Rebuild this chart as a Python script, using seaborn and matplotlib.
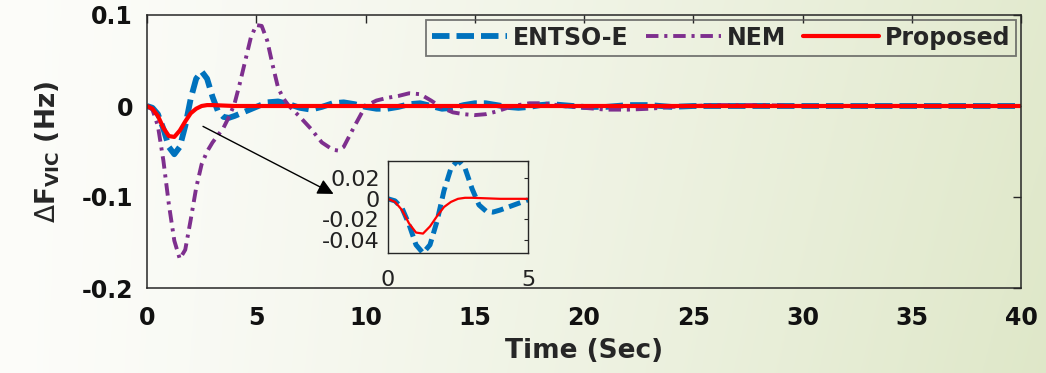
import numpy as np
import pandas as pd
import matplotlib
matplotlib.use("Agg")
import matplotlib.pyplot as plt
import seaborn as sns

# ---------------- data ----------------
t_entsoe = [0, 0.25, 0.5, 0.75, 1.0, 1.25, 1.5, 1.75, 2.0, 2.25, 2.5, 2.75, 3.0, 3.25, 3.5,
            3.75, 4.0, 4.5, 5.0, 5.5, 6.0, 6.5, 7.0, 7.5, 8.0, 8.5, 9.0, 9.5, 10.0, 10.5,
            11.0, 11.5, 12.0, 12.5, 13.0, 13.5, 14.0, 14.5, 15.0, 15.5, 16.0, 16.5, 17.0,
            17.5, 18.0, 18.5, 19.0, 20, 21, 22, 23, 24, 25, 30, 35, 40]
v_entsoe = [0, -0.002, -0.009, -0.025, -0.045, -0.053, -0.045, -0.022, 0.008, 0.030, 0.038,
            0.030, 0.010, -0.006, -0.012, -0.013, -0.011, -0.006, -0.001, 0.004, 0.005, 0.002,
            -0.002, -0.004, -0.001, 0.003, 0.004, 0.002, -0.001, -0.003, -0.003, -0.001, 0.002,
            0.003, 0.000, -0.003, -0.002, 0.001, 0.003, 0.003, 0.001, -0.001, -0.002, -0.001,
            0.001, 0.002, 0.001, -0.001, -0.001, 0.001, 0.001, -0.001, 0, 0, 0, 0]

t_nem = [0, 0.25, 0.5, 0.75, 1.0, 1.25, 1.5, 1.75, 2.0, 2.25, 2.5, 2.75, 3.0, 3.25, 3.5, 3.75,
         4.0, 4.25, 4.5, 4.75, 5.0, 5.25, 5.5, 5.75, 6.0, 6.25, 6.5, 7.0, 7.5, 8.0, 8.5, 8.75,
         9.0, 9.5, 10.0, 10.5, 11.0, 11.5, 12.0, 12.5, 13.0, 13.5, 14.0, 14.5, 15.0, 15.5,
         16.0, 16.5, 17.0, 17.5, 18.0, 18.5, 19.0, 20, 21, 22, 23, 24, 25, 26, 28, 30, 35, 40]
v_nem = [0, -0.004, -0.022, -0.060, -0.108, -0.148, -0.168, -0.158, -0.125, -0.090, -0.064,
         -0.050, -0.040, -0.032, -0.024, -0.012, 0.002, 0.025, 0.050, 0.075, 0.089, 0.088,
         0.072, 0.045, 0.020, 0.008, 0.000, -0.012, -0.025, -0.040, -0.048, -0.049, -0.045,
         -0.022, 0.000, 0.006, 0.009, 0.011, 0.014, 0.013, 0.006, -0.002, -0.007, -0.009,
         -0.010, -0.009, -0.006, -0.002, 0.001, 0.003, 0.003, 0.002, 0.000, -0.002, -0.004,
         -0.004, -0.003, -0.001, 0.000, 0.001, 0.001, 0, 0, 0]

t_prop = [0, 0.25, 0.5, 0.75, 1.0, 1.25, 1.5, 1.75, 2.0, 2.25, 2.5, 2.75, 3.0, 3.5, 4.0, 5.0, 40]
v_prop = [0, -0.003, -0.011, -0.024, -0.033, -0.034, -0.027, -0.017, -0.008, -0.003, 0.000,
          0.001, 0.001, 0.0005, 0, 0, 0]

series_names = ["ENTSO-E", "NEM", "Proposed"]
x_ticks = [0, 5, 10, 15, 20, 25, 30, 35, 40]
y_ticks = [-0.2, -0.1, 0, 0.1]
y_tick_labels = ["-0.2", "-0.1", "0", "0.1"]
inset_y_ticks = [-0.04, -0.02, 0, 0.02]
inset_y_labels = ["-0.04", "-0.02", "0", "0.02"]
inset_x_ticks = [0, 5]

# ---------------- style ----------------
sns.set_style("white")
plt.rcParams["font.family"] = ["DejaVu Sans"]
plt.rcParams["mathtext.fontset"] = "dejavusans"

c_blue = "#0072BD"
c_purple = "#7E2F8E"
c_red = "#FF0000"
c_axis = "#262626"

fig = plt.figure(figsize=(10.46, 3.73), dpi=100)

# background gradient
bg = fig.add_axes([0, 0, 1, 1], zorder=-10)
nx, ny = 400, 150
gx = np.linspace(0, 1, nx)[None, :]
gy = np.linspace(0, 1, ny)[:, None]
w = np.clip(0.85 * gx ** 1.3 + 0.12 * gy * gx, 0, 1)
c0 = np.array([0.99, 0.99, 0.98])
c1 = np.array([0.87, 0.905, 0.78])
img = c0[None, None, :] * (1 - w[..., None]) + c1[None, None, :] * w[..., None]
bg.imshow(img, aspect="auto", extent=[0, 1, 0, 1], origin="upper")
bg.set_axis_off()

ax = fig.add_axes([147 / 1046, 85 / 373, 874 / 1046, 273 / 373])
ax.set_facecolor("none")

df_e = pd.DataFrame({"t": t_entsoe, "v": v_entsoe})
df_n = pd.DataFrame({"t": t_nem, "v": v_nem})
df_p = pd.DataFrame({"t": t_prop, "v": v_prop})

sns.lineplot(data=df_e, x="t", y="v", ax=ax, color=c_blue, lw=4.2, label=series_names[0])
ax.lines[-1].set_dashes([3.0, 1.2])
sns.lineplot(data=df_n, x="t", y="v", ax=ax, color=c_purple, lw=2.8, label=series_names[1])
ax.lines[-1].set_dashes([3.2, 1.5, 0.8, 1.5])
sns.lineplot(data=df_p, x="t", y="v", ax=ax, color=c_red, lw=3.0, label=series_names[2])

ax.set_xlim(0, 40)
ax.set_ylim(-0.2, 0.1)
ax.set_xticks(x_ticks)
ax.set_xticklabels([str(x) for x in x_ticks], fontsize=17, fontweight="bold")
ax.set_yticks(y_ticks)
ax.set_yticklabels(y_tick_labels, fontsize=17, fontweight="bold")
ax.tick_params(direction="in", length=6, width=1, colors=c_axis, top=True, right=True,
               labelcolor="#111111")
ax.tick_params(axis="x", pad=13)
ax.tick_params(axis="y", pad=10)
for s in ax.spines.values():
    s.set_color(c_axis)
    s.set_linewidth(1.1)
    s.set_visible(True)
ax.set_xlabel("Time (Sec)", fontsize=19, fontweight="bold", labelpad=6)
ax.set_ylabel(r"$\Delta$F$_{\mathbf{VIC}}$ (Hz)", fontsize=19, fontweight="bold", labelpad=14)

leg = ax.legend(loc="upper right", ncol=3, frameon=True, fancybox=False,
                prop={"weight": "bold", "size": 17}, handlelength=3.2, columnspacing=0.72,
                handletextpad=0.25, borderpad=0.25, borderaxespad=0.2)
leg.get_frame().set_facecolor("none")
leg.get_frame().set_edgecolor("#555555")
leg.get_frame().set_linewidth(1.3)

# arrow to inset
ax.annotate("", xy=(8.65, -0.098), xytext=(2.45, -0.021),
            arrowprops=dict(arrowstyle="-|>", color="black", lw=1.0, mutation_scale=24))

# inset
axi = fig.add_axes([388 / 1046, 120 / 373, 140 / 1046, 92 / 373])
axi.set_facecolor("none")
ins_e = df_e[df_e["t"] <= 5]
ins_p = df_p[df_p["t"] <= 5]
sns.lineplot(data=ins_e, x="t", y="v", ax=axi, color=c_blue, lw=3.6, legend=False)
axi.lines[-1].set_dashes([2.4, 1.2])
sns.lineplot(data=ins_p, x="t", y="v", ax=axi, color=c_red, lw=1.6, legend=False)
axi.set_xlim(0, 5)
axi.set_ylim(-0.053, 0.037)
axi.set_xticks(inset_x_ticks)
axi.set_xticklabels([str(x) for x in inset_x_ticks], fontsize=16)
axi.set_yticks(inset_y_ticks)
axi.set_yticklabels(inset_y_labels, fontsize=16)
axi.tick_params(direction="in", length=3, width=0.8, colors=c_axis, top=True, right=True,
                labelcolor="#222222")
axi.tick_params(axis="x", pad=12)
axi.tick_params(axis="y", pad=6)
axi.set_xlabel("")
axi.set_ylabel("")
for s in axi.spines.values():
    s.set_color(c_axis)
    s.set_linewidth(1.0)
    s.set_visible(True)

fig.savefig("out.png", dpi=100)
